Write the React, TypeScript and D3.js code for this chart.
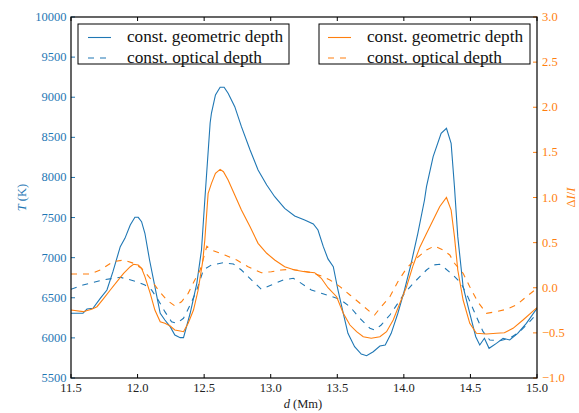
import React from "react";
import * as d3 from "d3";

// ---- data ----
const xTicks = [11.5, 12.0, 12.5, 13.0, 13.5, 14.0, 14.5, 15.0];
const tTicks = [5500, 6000, 6500, 7000, 7500, 8000, 8500, 9000, 9500, 10000];
const iTicks = [-1.0, -0.5, 0.0, 0.5, 1.0, 1.5, 2.0, 2.5, 3.0];

const dTGeo = [11.5, 11.59, 11.62, 11.665, 11.72, 11.77, 11.815, 11.87, 11.905, 11.945, 11.98, 12.005, 12.03, 12.055, 12.09, 12.13, 12.17, 12.205, 12.245, 12.28, 12.32, 12.345, 12.395, 12.445, 12.48, 12.505, 12.545, 12.555, 12.585, 12.62, 12.65, 12.68, 12.73, 12.78, 12.845, 12.905, 12.97, 13.03, 13.105, 13.18, 13.255, 13.32, 13.355, 13.395, 13.43, 13.47, 13.505, 13.545, 13.58, 13.63, 13.68, 13.72, 13.77, 13.82, 13.86, 13.905, 13.955, 14.005, 14.055, 14.105, 14.155, 14.17, 14.22, 14.28, 14.32, 14.355, 14.38, 14.405, 14.445, 14.495, 14.54, 14.57, 14.605, 14.64, 14.695, 14.745, 14.795, 14.855, 14.92, 15.0];
const tGeo = [6307, 6307, 6360, 6369, 6493, 6597, 6825, 7137, 7241, 7407, 7503, 7503, 7449, 7304, 6971, 6638, 6307, 6223, 6140, 6036, 6003, 6003, 6307, 6680, 7096, 7719, 8679, 8803, 9028, 9124, 9124, 9049, 8882, 8633, 8342, 8093, 7906, 7760, 7615, 7519, 7470, 7420, 7345, 7137, 6985, 6887, 6597, 6307, 6057, 5890, 5799, 5778, 5828, 5899, 5912, 6057, 6307, 6597, 6930, 7304, 7719, 7885, 8259, 8550, 8613, 8426, 7885, 7262, 6638, 6307, 6015, 5912, 5995, 5870, 5932, 5995, 5974, 6057, 6182, 6370];

const dTOpt = [11.5, 11.59, 11.74, 11.82, 11.87, 11.93, 11.995, 12.055, 12.105, 12.155, 12.205, 12.255, 12.295, 12.345, 12.395, 12.445, 12.495, 12.555, 12.645, 12.72, 12.78, 12.855, 12.93, 13.005, 13.095, 13.17, 13.23, 13.305, 13.38, 13.445, 13.52, 13.595, 13.67, 13.745, 13.78, 13.83, 13.895, 13.955, 14.005, 14.07, 14.12, 14.17, 14.22, 14.27, 14.295, 14.37, 14.43, 14.48, 14.545, 14.595, 14.645, 14.72, 14.795, 14.87, 14.945, 15.0];
const tOpt = [6606, 6660, 6722, 6743, 6755, 6730, 6700, 6660, 6597, 6472, 6327, 6202, 6182, 6244, 6410, 6597, 6850, 6909, 6937, 6921, 6846, 6722, 6606, 6660, 6722, 6743, 6680, 6597, 6556, 6522, 6481, 6389, 6244, 6120, 6098, 6161, 6285, 6431, 6556, 6680, 6763, 6846, 6909, 6917, 6888, 6784, 6680, 6514, 6264, 6077, 5974, 5965, 5995, 6077, 6202, 6300];

const dIGeo = [11.5, 11.59, 11.655, 11.695, 11.74, 11.795, 11.845, 11.895, 11.945, 11.97, 12.005, 12.03, 12.055, 12.095, 12.13, 12.17, 12.205, 12.245, 12.28, 12.32, 12.345, 12.38, 12.42, 12.455, 12.49, 12.505, 12.53, 12.555, 12.585, 12.62, 12.645, 12.68, 12.73, 12.78, 12.845, 12.905, 12.97, 13.03, 13.105, 13.18, 13.255, 13.33, 13.38, 13.43, 13.495, 13.545, 13.595, 13.645, 13.695, 13.755, 13.82, 13.87, 13.92, 13.97, 14.02, 14.07, 14.12, 14.17, 14.22, 14.27, 14.32, 14.355, 14.38, 14.405, 14.445, 14.495, 14.545, 14.62, 14.695, 14.755, 14.82, 14.895, 15.0];
const iGeo = [-0.247, -0.265, -0.239, -0.21, -0.128, -0.025, 0.067, 0.16, 0.233, 0.26, 0.252, 0.215, 0.123, -0.062, -0.247, -0.376, -0.394, -0.424, -0.468, -0.479, -0.487, -0.394, -0.247, -0.025, 0.3, 0.529, 1.047, 1.157, 1.268, 1.312, 1.286, 1.194, 1.028, 0.861, 0.676, 0.492, 0.382, 0.307, 0.233, 0.197, 0.178, 0.167, 0.105, 0.0, -0.099, -0.283, -0.413, -0.487, -0.542, -0.56, -0.542, -0.487, -0.357, -0.172, 0.01, 0.25, 0.45, 0.6, 0.75, 0.9, 1.0, 0.861, 0.566, 0.197, -0.136, -0.394, -0.505, -0.512, -0.505, -0.498, -0.45, -0.357, -0.22];

const dIOpt = [11.5, 11.645, 11.72, 11.815, 11.895, 11.97, 12.03, 12.095, 12.155, 12.22, 12.28, 12.33, 12.38, 12.43, 12.47, 12.49, 12.52, 12.555, 12.655, 12.745, 12.83, 12.93, 13.005, 13.08, 13.155, 13.23, 13.305, 13.38, 13.445, 13.52, 13.595, 13.67, 13.745, 13.78, 13.83, 13.895, 13.955, 14.02, 14.095, 14.17, 14.23, 14.295, 14.345, 14.38, 14.445, 14.495, 14.555, 14.62, 14.695, 14.77, 14.845, 14.92, 15.0];
const iOpt = [0.152, 0.152, 0.197, 0.289, 0.307, 0.271, 0.215, 0.105, -0.025, -0.136, -0.202, -0.155, -0.062, 0.086, 0.197, 0.3, 0.46, 0.418, 0.363, 0.307, 0.233, 0.167, 0.178, 0.197, 0.204, 0.189, 0.167, 0.13, 0.086, 0.012, -0.08, -0.172, -0.265, -0.302, -0.21, -0.099, 0.067, 0.215, 0.326, 0.418, 0.463, 0.418, 0.363, 0.271, 0.16, 0.012, -0.155, -0.283, -0.265, -0.239, -0.191, -0.099, -0.006];

const BLUE = "#1f77b4";
const ORANGE = "#ff7f0e";
const FONT = '"Liberation Serif", "DejaVu Serif", serif';

const W = 579, H = 413;
const L = 71, R = 537, T = 17, B = 378;

const x = d3.scaleLinear().domain([11.5, 15.0]).range([L, R]);
const yT = d3.scaleLinear().domain([5500, 10000]).range([B, T]);
const yI = d3.scaleLinear().domain([-1.0, 3.0]).range([B, T]);

const zip = (a: number[], b: number[]) => a.map((v, i) => [v, b[i]] as [number, number]);

const fmtI = (v: number) => (v < 0 ? "\u2212" : "") + Math.abs(v).toFixed(1);

export default function App() {
  const lineT = d3.line<[number, number]>().x(d => x(d[0])).y(d => yT(d[1]));
  const lineI = d3.line<[number, number]>().x(d => x(d[0])).y(d => yI(d[1]));
  const tick = 4;
  return (
    <svg width={W} height={H} style={{ position: "absolute", left: 0, top: 0, background: "#fff", fontFamily: FONT }}>
      <rect x={0} y={0} width={W} height={H} fill="#fff" />
      <defs>
        <clipPath id="plot"><rect x={L} y={T} width={R - L} height={B - T} /></clipPath>
      </defs>
      <g clipPath="url(#plot)" fill="none" strokeWidth={1.1}>
        <path d={lineT(zip(dTGeo, tGeo)) || ""} stroke={BLUE} />
        <path d={lineT(zip(dTOpt, tOpt)) || ""} stroke={BLUE} strokeDasharray="6,6" />
        <path d={lineI(zip(dIGeo, iGeo)) || ""} stroke={ORANGE} />
        <path d={lineI(zip(dIOpt, iOpt)) || ""} stroke={ORANGE} strokeDasharray="6,6" />
      </g>
      {xTicks.map(v => (
        <g key={"x" + v}>
          <line x1={x(v)} x2={x(v)} y1={B} y2={B - tick} stroke="#000" />
          <line x1={x(v)} x2={x(v)} y1={T} y2={T + tick} stroke="#000" />
          <text x={x(v)} y={392} fontSize={12.5} textAnchor="middle" fill="#222">{v.toFixed(1)}</text>
        </g>
      ))}
      {tTicks.map(v => (
        <g key={"t" + v}>
          <line x1={L} x2={L + tick} y1={yT(v)} y2={yT(v)} stroke={BLUE} />
          <text x={L - 4.5} y={yT(v) + 4} fontSize={12.5} textAnchor="end" fill={BLUE}>{v}</text>
        </g>
      ))}
      {iTicks.map(v => (
        <g key={"i" + v}>
          <line x1={R} x2={R - tick} y1={yI(v)} y2={yI(v)} stroke={ORANGE} />
          <text x={542} y={yI(v) + 4} fontSize={12.5} textAnchor="start" fill={ORANGE}>{fmtI(v)}</text>
        </g>
      ))}
      <rect x={L} y={T} width={R - L} height={B - T} fill="none" stroke="#000" strokeWidth={1.2} />
      <text x={303} y={408} fontSize={12.5} textAnchor="middle" fill="#222">
        <tspan fontStyle="italic">d</tspan> (Mm)
      </text>
      <text transform={`translate(25.5,${(T + B) / 2}) rotate(-90)`} fontSize={12.5} textAnchor="middle" fill={BLUE}>
        <tspan fontStyle="italic">T</tspan> (K)
      </text>
      <text transform={`translate(575,${(T + B) / 2}) rotate(-90)`} fontSize={12.5} textAnchor="middle" fill={ORANGE}>
        Δ<tspan fontStyle="italic">I</tspan>/<tspan fontStyle="italic">I</tspan>
      </text>
      <g>
        <rect x={78} y={24} width={211} height={40} fill="#fff" stroke="#000" strokeWidth={1} />
        <line x1={88} x2={111} y1={37.5} y2={37.5} stroke={BLUE} strokeWidth={1.1} />
        <line x1={88} x2={111} y1={58} y2={58} stroke={BLUE} strokeWidth={1.1} strokeDasharray="6,6" />
        <text x={127} y={42} fontSize={16} textLength={156} lengthAdjust="spacingAndGlyphs" fill="#111">const. geometric depth</text>
        <text x={127} y={62.5} fontSize={16} textLength={135} lengthAdjust="spacingAndGlyphs" fill="#111">const. optical depth</text>
      </g>
      <g>
        <rect x={319} y={24} width={211} height={40} fill="#fff" stroke="#000" strokeWidth={1} />
        <line x1={328} x2={351} y1={37.5} y2={37.5} stroke={ORANGE} strokeWidth={1.1} />
        <line x1={328} x2={351} y1={58} y2={58} stroke={ORANGE} strokeWidth={1.1} strokeDasharray="6,6" />
        <text x={367} y={42} fontSize={16} textLength={156} lengthAdjust="spacingAndGlyphs" fill="#111">const. geometric depth</text>
        <text x={367} y={62.5} fontSize={16} textLength={135} lengthAdjust="spacingAndGlyphs" fill="#111">const. optical depth</text>
      </g>
    </svg>
  );
}
